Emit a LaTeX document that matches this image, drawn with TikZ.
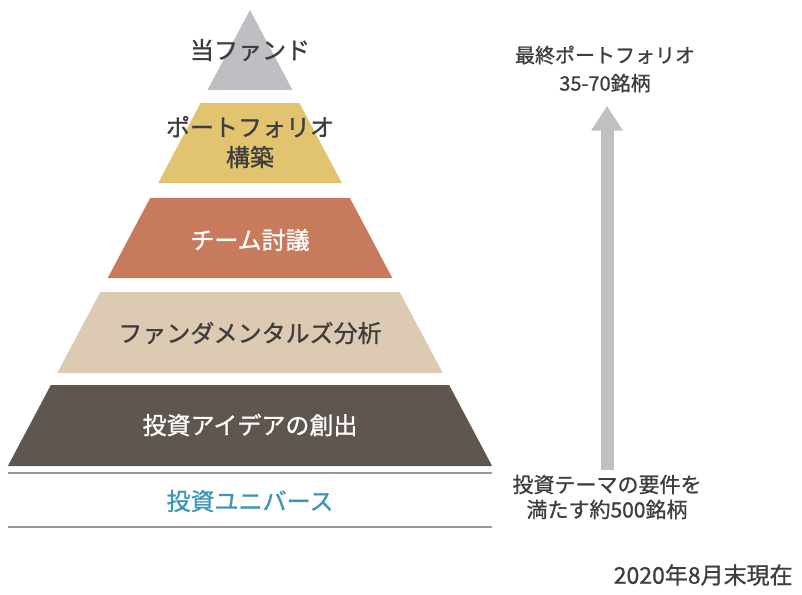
\documentclass[tikz,border=0pt]{standalone}
\usepackage{fontspec}
\setmainfont{Noto Sans CJK JP}[FakeBold=1]
\usetikzlibrary{arrows.meta}

\definecolor{fundgray}{RGB}{190,190,195}
\definecolor{buildyellow}{RGB}{226,196,112}
\definecolor{teamorange}{RGB}{200,122,92}
\definecolor{fundabeige}{RGB}{221,202,178}
\definecolor{ideabrown}{RGB}{95,86,79}
\definecolor{labeldark}{RGB}{62,62,62}
\definecolor{univteal}{RGB}{62,150,182}
\definecolor{rulegray}{RGB}{150,155,160}
\definecolor{arrowgray}{RGB}{192,192,192}

\begin{document}
\begin{tikzpicture}[x=0.5pt,y=-0.5pt,
        every node/.style={align=center,text=labeldark,inner sep=2pt},
        layerlabel/.style={font=\fontsize{12}{15}\selectfont},
        sidelabel/.style={font=\fontsize{10.5}{12.5}\selectfont},
        rule/.style={draw=rulegray,line width=1pt},
        bigarrow/.style={draw=arrowgray,line width=6.5pt,-{Triangle[width=15pt,length=12.5pt]}}]
    \useasboundingbox (0,0) rectangle (802,594);

    % pyramid: one triangle cut into bands
    \fill[fundgray] (250,10) -- ({250+0.531*80},90) -- ({250-0.531*80},90) -- cycle;
    \foreach \t/\b/\c in {103/183/buildyellow,198/278/teamorange,292/373/fundabeige,385/466/ideabrown}
        \fill[\c] ({250-0.531*(\t-10)},\t) -- ({250+0.531*(\t-10)},\t)
            -- ({250+0.531*(\b-10)},\b) -- ({250-0.531*(\b-10)},\b) -- cycle;

    \node[layerlabel] (fund) at (250,50) {当ファンド};
    \node[layerlabel] (build) at (250,142) {ポートフォリオ\\構築};
    \node[layerlabel,text=white] (team) at (250,240) {チーム討議};
    \node[layerlabel] (funda) at (250,333) {ファンダメンタルズ分析};
    \node[layerlabel,text=white] (idea) at (250,425) {投資アイデアの創出};

    % universe band
    \coordinate (rulea) at (8,473);
    \coordinate (ruleb) at (8,527);
    \draw[rule] (rulea) -- ++(484,0);
    \draw[rule] (ruleb) -- ++(484,0);
    \node[layerlabel,text=univteal] (univ) at (250,501) {投資ユニバース};

    % right side
    \node[sidelabel,font=\fontsize{10}{14}\selectfont] (final) at (605,69) {最終ポートフォリオ\\35-70銘柄};
    \node[sidelabel] (cand) at (607,497) {投資テーマの要件を\\満たす約500銘柄};
    \draw[bigarrow,shorten >=4.5pt] (cand.north) -- (cand.north |- final.south);

    \node[layerlabel,font=\fontsize{11.5}{14}\selectfont,anchor=east] (date) at (797,575) {2020年8月末現在};
\end{tikzpicture}
\end{document}
